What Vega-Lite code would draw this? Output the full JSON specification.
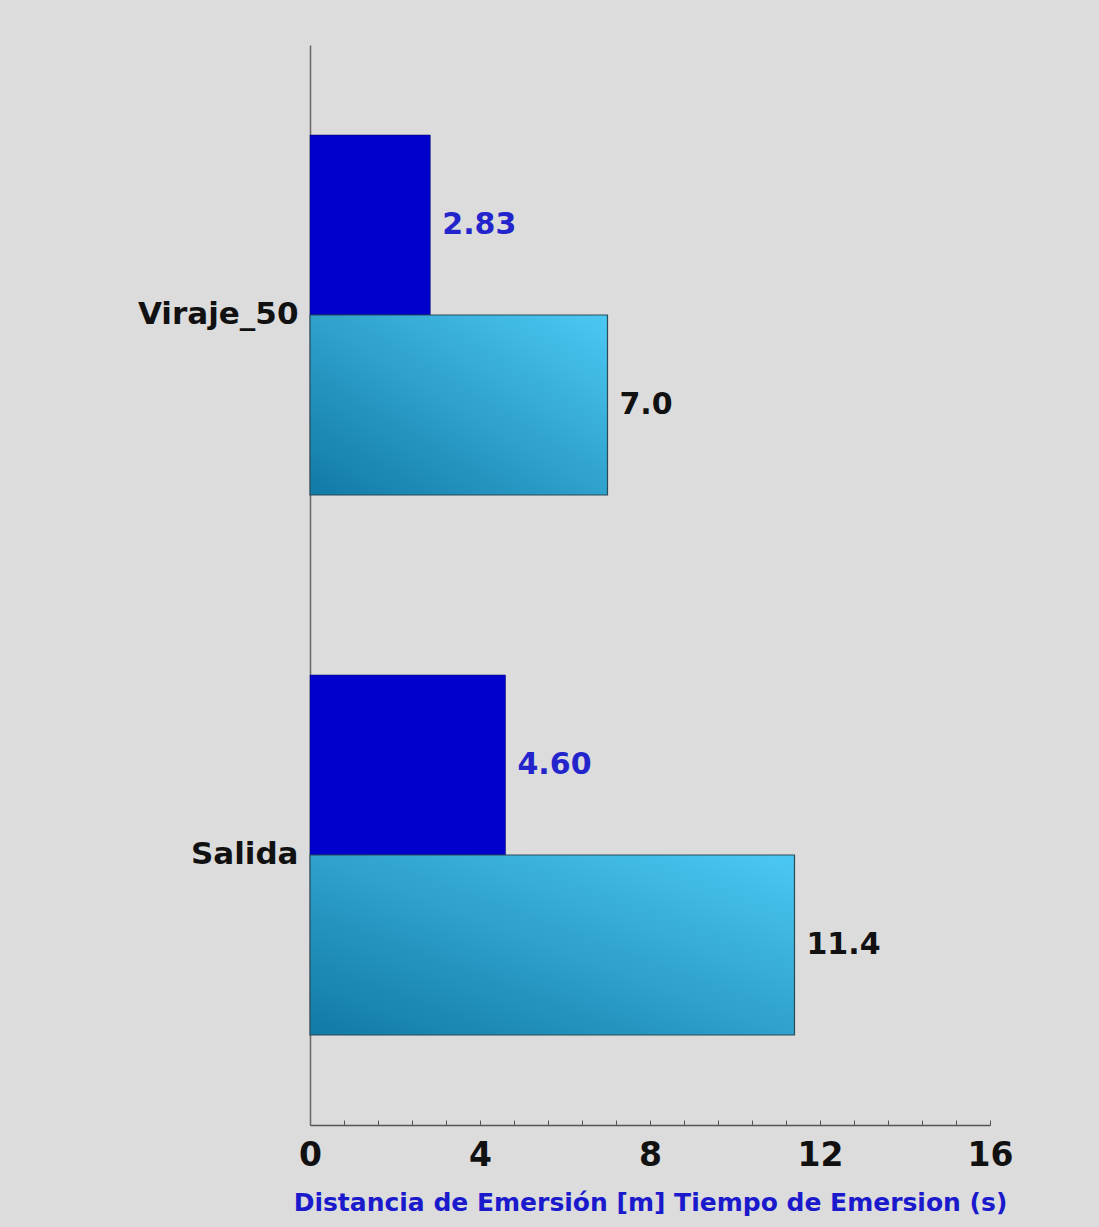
{
  "$schema": "https://vega.github.io/schema/vega-lite/v6.json",
  "width": 680,
  "height": 1080,
  "autosize": {"type": "none"},
  "padding": {"left": 310, "top": 45, "right": 109, "bottom": 102},
  "background": "#dcdcdc",
  "config": {"view": {"stroke": null}},
  "data": {"values": [
    {"cat": "Viraje_50", "series": "Distancia", "value": 2.83, "label": "2.83"},
    {"cat": "Viraje_50", "series": "Tiempo", "value": 7.0, "label": "7.0"},
    {"cat": "Salida", "series": "Distancia", "value": 4.60, "label": "4.60"},
    {"cat": "Salida", "series": "Tiempo", "value": 11.4, "label": "11.4"}
  ]},
  "encoding": {
    "y": {"field": "cat", "type": "nominal", "sort": ["Viraje_50", "Salida"],
      "scale": {"paddingInner": 0, "paddingOuter": 0},
      "axis": {"title": null, "ticks": false, "domainColor": "#666666", "domainWidth": 1.5,
        "labelFont": "DejaVu Sans", "labelFontWeight": "bold", "labelFontSize": 31, "labelColor": "#111111", "labelPadding": 12}},
    "yOffset": {"field": "series", "type": "nominal", "sort": ["Distancia", "Tiempo"],
      "scale": {"domain": ["Distancia", "Tiempo"], "paddingInner": 0, "paddingOuter": 0.5}},
    "x": {"field": "value", "type": "quantitative",
      "scale": {"domain": [0, 16], "nice": false},
      "axis": {"title": "Distancia de Emersión [m] Tiempo de Emersion (s)",
        "values": [0, 0.8, 1.6, 2.4, 3.2, 4, 4.8, 5.6, 6.4, 7.2, 8, 8.8, 9.6, 10.4, 11.2, 12, 12.8, 13.6, 14.4, 15.2, 16],
        "labelExpr": "abs(datum.value - round(datum.value/4)*4) < 0.01 ? datum.label : ''",
        "grid": false, "labelFlush": false, "domainColor": "#555555", "domainWidth": 1.5,
        "tickColor": "#555555", "tickSize": -5, "tickWidth": 1,
        "labelFont": "DejaVu Sans", "labelFontWeight": "bold", "labelFontSize": 33, "labelColor": "#111111", "labelPadding": 19,
        "titleFont": "DejaVu Sans", "titleFontWeight": "bold", "titleFontSize": 25, "titleColor": "#1a1acc", "titlePadding": 18}}
  },
  "layer": [
    {"transform": [{"filter": "datum.series === 'Distancia'"}],
      "mark": {"type": "bar", "color": "#0000cc", "stroke": "#000066", "strokeWidth": 0.5}},
    {"transform": [{"filter": "datum.series === 'Tiempo'"}],
      "mark": {"type": "bar", "stroke": "#2a4a58", "strokeWidth": 1.2,
        "color": {"gradient": "linear", "x1": 0, "y1": 1, "x2": 1, "y2": 0,
          "stops": [{"offset": 0, "color": "#117aa6"}, {"offset": 1, "color": "#4bc8f2"}]}}},
    {"transform": [{"filter": "datum.series === 'Distancia'"}],
      "mark": {"type": "text", "align": "left", "baseline": "middle", "dx": 12,
        "font": "DejaVu Sans", "fontWeight": "bold", "fontSize": 30, "color": "#2424cc"},
      "encoding": {"text": {"field": "label"}}},
    {"transform": [{"filter": "datum.series === 'Tiempo'"}],
      "mark": {"type": "text", "align": "left", "baseline": "middle", "dx": 12,
        "font": "DejaVu Sans", "fontWeight": "bold", "fontSize": 30, "color": "#111111"},
      "encoding": {"text": {"field": "label"}}}
  ]
}
